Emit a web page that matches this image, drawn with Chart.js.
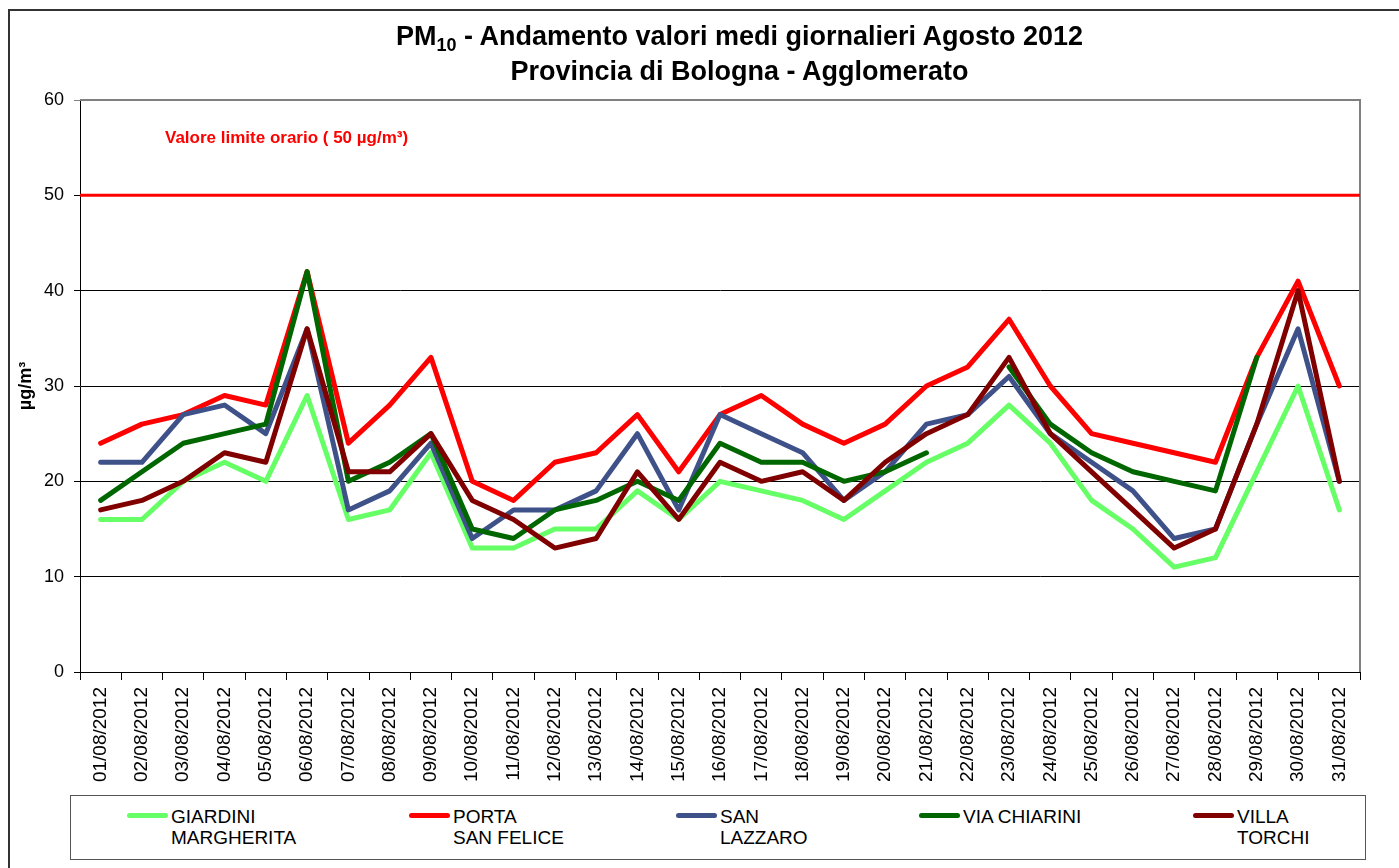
<!DOCTYPE html>
<html lang="it">
<head>
    <meta charset="UTF-8">
    <title>PM10 Agosto 2012</title>
    <script src="https://cdn.jsdelivr.net/npm/chart.js"></script>
    <style>
        body {
            margin: 0;
            font-family: "Liberation Sans", Arial, sans-serif;
            background: #fff;
        }
        .page {
            position: relative;
            width: 1399px;
            height: 868px;
            overflow: hidden;
        }
        .frame {
            position: absolute;
            left: 8px;
            top: 9px;
            width: 1400px;
            height: 900px;
            border-left: 2px solid #333;
            border-top: 2px solid #333;
        }
        #chart {
            position: absolute;
            left: 0;
            top: 0;
        }
        .title {
            position: absolute;
            left: 80px;
            right: 0;
            top: 19px;
            text-align: center;
            font-weight: bold;
            font-size: 27px;
            line-height: 35px;
            color: #000;
        }
        .title sub {
            font-size: 18px;
            line-height: 0;
        }
        .legend {
            position: absolute;
            left: 70px;
            top: 795px;
            width: 1294px;
            height: 63px;
            border: 1px solid #555;
        }
        .item {
            position: absolute;
            top: 10px;
            font-size: 19px;
            line-height: 21px;
            color: #000;
        }
        .swatch {
            position: absolute;
            top: 9px;
            width: 41px;
            height: 5px;
            border-radius: 3px;
        }
    </style>
</head>
<body>
<div class="page">
    <div class="frame"></div>
    <canvas id="chart" width="1399" height="790"></canvas>
    <div class="title">PM<sub>10</sub> - Andamento valori medi giornalieri Agosto 2012<br>Provincia di Bologna - Agglomerato</div>
    <div class="legend" id="legend"></div>
</div>

<script>
    const days = ['01/08/2012', '02/08/2012', '03/08/2012', '04/08/2012', '05/08/2012', '06/08/2012',
        '07/08/2012', '08/08/2012', '09/08/2012', '10/08/2012', '11/08/2012', '12/08/2012',
        '13/08/2012', '14/08/2012', '15/08/2012', '16/08/2012', '17/08/2012', '18/08/2012',
        '19/08/2012', '20/08/2012', '21/08/2012', '22/08/2012', '23/08/2012', '24/08/2012',
        '25/08/2012', '26/08/2012', '27/08/2012', '28/08/2012', '29/08/2012', '30/08/2012',
        '31/08/2012'];

    const giardiniMargherita = [16, 16, 20, 22, 20, 29, 16, 17, 23, 13, 13, 15, 15, 19, 16, 20,
        19, 18, 16, 19, 22, 24, 28, 24, 18, 15, 11, 12, 21, 30, 17];
    const portaSanFelice = [24, 26, 27, 29, 28, 42, 24, 28, 33, 20, 18, 22, 23, 27, 21, 27,
        29, 26, 24, 26, 30, 32, 37, 30, 25, 24, 23, 22, 33, 41, 30];
    const sanLazzaro = [22, 22, 27, 28, 25, 36, 17, 19, 24, 14, 17, 17, 19, 25, 17, 27,
        25, 23, 18, 21, 26, 27, 31, 25, 22, 19, 14, 15, 26, 36, 20];
    const viaChiarini = [18, 21, 24, 25, 26, 42, 20, 22, 25, 15, 14, 17, 18, 20, 18, 24,
        22, 22, 20, 21, 23, null, 32, 26, 23, 21, 20, 19, 33, null, null];
    const villaTorchi = [17, 18, 20, 23, 22, 36, 21, 21, 25, 18, 16, 13, 14, 21, 16, 22,
        20, 21, 18, 22, 25, 27, 33, 25, 21, 17, 13, 15, 26, 40, 20];

    const stations = [
        ['GIARDINI', 'MARGHERITA'],
        ['PORTA', 'SAN FELICE'],
        ['SAN', 'LAZZARO'],
        ['VIA CHIARINI'],
        ['VILLA', 'TORCHI']
    ];
    const colors = ['#66ff66', '#ff0000', '#3f5189', '#006600', '#800000'];
    const series = [giardiniMargherita, portaSanFelice, sanLazzaro, viaChiarini, villaTorchi];

    const limitValue = 50;
    const limitLabel = 'Valore limite orario ( 50 µg/m³)';

    // limit line, its label and the grey frame of the plot area
    const extras = {
        id: 'extras',
        beforeDatasetsDraw(chart) {
            const { ctx, chartArea, scales } = chart;
            const y = scales.y.getPixelForValue(limitValue);
            ctx.save();
            ctx.strokeStyle = '#808080';
            ctx.lineWidth = 2;
            ctx.beginPath();
            ctx.moveTo(chartArea.left, chartArea.top);
            ctx.lineTo(chartArea.right, chartArea.top);
            ctx.lineTo(chartArea.right, chartArea.bottom);
            ctx.stroke();

            ctx.strokeStyle = '#ff0000';
            ctx.lineWidth = 3;
            ctx.beginPath();
            ctx.moveTo(chartArea.left, y);
            ctx.lineTo(chartArea.right, y);
            ctx.stroke();

            ctx.fillStyle = '#ff0000';
            ctx.font = 'bold 17px "Liberation Sans", Arial, sans-serif';
            ctx.textBaseline = 'middle';
            ctx.fillText(limitLabel, chartArea.left + 85, scales.y.getPixelForValue(56));
            ctx.restore();
        }
    };

    new Chart(document.getElementById('chart'), {
        type: 'line',
        data: {
            labels: days,
            datasets: series.map((data, i) => ({
                label: stations[i].join(' '),
                data: data,
                borderColor: colors[i],
                backgroundColor: colors[i],
                borderWidth: 5,
                pointRadius: 0,
                tension: 0,
                spanGaps: false,
                borderJoinStyle: 'round',
                borderCapStyle: 'round',
                order: series.length - i
            }))
        },
        options: {
            responsive: false,
            animation: false,
            devicePixelRatio: 1,
            layout: { padding: { left: 0, top: 100, right: 39, bottom: 0 } },
            plugins: {
                legend: { display: false },
                title: { display: false },
                tooltip: { enabled: false }
            },
            scales: {
                x: {
                    offset: true,
                    afterFit(scale) { scale.height = 118; },
                    grid: {
                        offset: true,
                        drawOnChartArea: false,
                        color: '#000',
                        tickLength: 8
                    },
                    border: { color: '#000', width: 1 },
                    ticks: {
                        autoSkip: false,
                        minRotation: 90,
                        maxRotation: 90,
                        padding: 7,
                        color: '#000',
                        font: { family: '"Liberation Sans", Arial, sans-serif', size: 19 }
                    }
                },
                y: {
                    min: 0,
                    max: 60,
                    afterFit(scale) { scale.width = 80; },
                    grid: {
                        color: ctx => ctx.tick && ctx.tick.value === 60 ? '#808080' : '#000',
                        tickLength: 6
                    },
                    border: { color: '#000', width: 1 },
                    ticks: {
                        stepSize: 10,
                        padding: 10,
                        color: '#000',
                        font: { family: '"Liberation Sans", Arial, sans-serif', size: 18 }
                    },
                    title: {
                        display: true,
                        text: 'µg/m³',
                        color: '#000',
                        padding: { top: 15, bottom: 0 },
                        font: { family: '"Liberation Sans", Arial, sans-serif', size: 18, weight: 'bold' }
                    }
                }
            }
        },
        plugins: [extras]
    });

    // legend drawn as html, the labels wrap on two lines
    const swatchLeft = [56, 338, 605, 848, 1122];
    const legend = document.getElementById('legend');
    stations.forEach((name, i) => {
        const sw = document.createElement('div');
        sw.className = 'swatch';
        sw.style.left = swatchLeft[i] + 'px';
        sw.style.top = '17px';
        sw.style.background = colors[i];
        legend.appendChild(sw);
        const txt = document.createElement('div');
        txt.className = 'item';
        txt.style.left = (swatchLeft[i] + 44) + 'px';
        txt.innerHTML = name.join('<br>');
        legend.appendChild(txt);
    });
</script>
</body>
</html>
